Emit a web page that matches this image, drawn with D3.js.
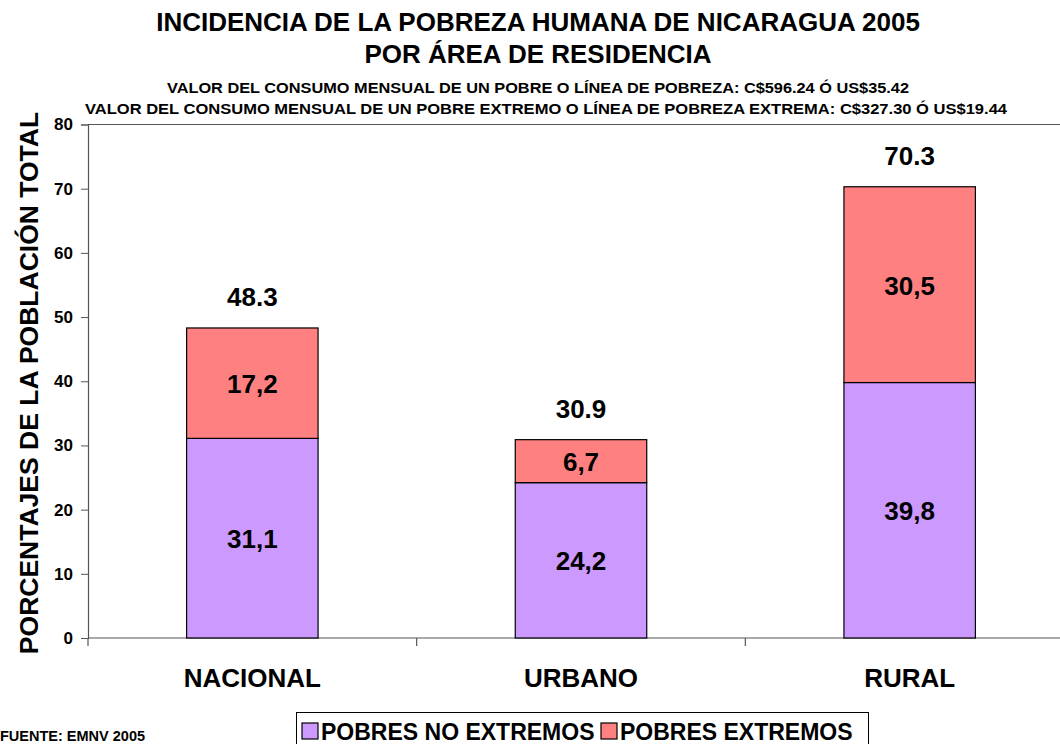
<!DOCTYPE html>
<html>
<head>
<meta charset="utf-8">
<script src="https://cdn.jsdelivr.net/npm/d3@7"></script>
<style>
  body { margin: 0; background: #fff; }
  svg { display: block; font-family: Arial, "Liberation Sans", sans-serif; font-weight: bold; }
</style>
</head>
<body>
<svg id="chart"></svg>
<script>
// datos
const categories = ["NACIONAL", "URBANO", "RURAL"];
const noExtremos = [31.1, 24.2, 39.8];
const extremos = [17.2, 6.7, 30.5];
const totales = [48.3, 30.9, 70.3];
const yTicks = [0, 10, 20, 30, 40, 50, 60, 70, 80];
const seriesNames = ["POBRES NO EXTREMOS", "POBRES EXTREMOS"];
const seriesColors = ["#CC99FF", "#FF8080"];

const W = 1060, H = 744;
const svg = d3.select("#chart").attr("width", W).attr("height", H);

const x = d3.scaleBand().domain(categories).range([88, 1074]).paddingInner(0.6).paddingOuter(0.3);
const y = d3.scaleLinear().domain([0, 80]).range([638, 124.5]);

// titulos
svg.append("text").attr("x", 538).attr("y", 31).attr("text-anchor", "middle")
    .style("font-size", "26px").text("INCIDENCIA DE LA POBREZA HUMANA DE NICARAGUA 2005");
svg.append("text").attr("x", 538).attr("y", 63).attr("text-anchor", "middle")
    .style("font-size", "26px").text("POR ÁREA DE RESIDENCIA");
svg.append("text").attr("x", 538).attr("y", 93).attr("text-anchor", "middle")
    .style("font-size", "14px").attr("textLength", 742).attr("lengthAdjust", "spacingAndGlyphs")
    .text("VALOR DEL CONSUMO MENSUAL DE UN POBRE O LÍNEA DE POBREZA: C$596.24 Ó US$35.42");
svg.append("text").attr("x", 546).attr("y", 114).attr("text-anchor", "middle")
    .style("font-size", "14px").attr("textLength", 922).attr("lengthAdjust", "spacingAndGlyphs")
    .text("VALOR DEL CONSUMO MENSUAL DE UN POBRE EXTREMO O LÍNEA DE POBREZA EXTREMA: C$327.30 Ó US$19.44");

// borde superior del area de trazado
svg.append("line").attr("x1", 88).attr("x2", 1074).attr("y1", y(80)).attr("y2", y(80))
    .attr("stroke", "#555").attr("stroke-width", 1.2);

// eje y
const yAxis = svg.append("g").attr("transform", "translate(88,0)")
    .call(d3.axisLeft(y).tickValues(yTicks).tickSize(7).tickPadding(8));
yAxis.select(".domain").attr("stroke", "#555").attr("stroke-width", 1.2);
yAxis.selectAll(".tick line").attr("stroke", "#555");
yAxis.selectAll("text").style("font-size", "17px").style("font-weight", "bold")
    .style("font-family", "Arial, 'Liberation Sans', sans-serif").attr("fill", "#000");

// eje x
svg.append("line").attr("x1", 88).attr("x2", 1074).attr("y1", y(0)).attr("y2", y(0))
    .attr("stroke", "#555").attr("stroke-width", 1.2);
const bounds = categories.map((c, i) => 88 + i * x.step());
svg.selectAll(".xtick").data(bounds).join("line").attr("class", "xtick")
    .attr("x1", d => d).attr("x2", d => d).attr("y1", y(0)).attr("y2", y(0) + 8)
    .attr("stroke", "#555").attr("stroke-width", 1.2);
svg.selectAll(".xlab").data(categories).join("text").attr("class", "xlab")
    .attr("x", d => x(d) + x.bandwidth() / 2).attr("y", 687).attr("text-anchor", "middle")
    .style("font-size", "26px").text(d => d);

// titulo eje y
svg.append("text").attr("transform", "translate(38,383) rotate(-90)").attr("text-anchor", "middle")
    .style("font-size", "26.5px").text("PORCENTAJES DE LA POBLACIÓN TOTAL");

// barras apiladas
const stacked = categories.map((c, i) => ({ cat: c, a: noExtremos[i], b: extremos[i], t: totales[i] }));
const g = svg.append("g");
g.selectAll(".barA").data(stacked).join("rect").attr("class", "barA")
    .attr("x", d => x(d.cat)).attr("width", x.bandwidth())
    .attr("y", d => y(d.a)).attr("height", d => y(0) - y(d.a))
    .attr("fill", seriesColors[0]).attr("stroke", "#000").attr("stroke-width", 1.2);
g.selectAll(".barB").data(stacked).join("rect").attr("class", "barB")
    .attr("x", d => x(d.cat)).attr("width", x.bandwidth())
    .attr("y", d => y(d.a + d.b)).attr("height", d => y(d.a) - y(d.a + d.b))
    .attr("fill", seriesColors[1]).attr("stroke", "#000").attr("stroke-width", 1.2);

const fmt = v => v.toFixed(1).replace(".", ",");
g.selectAll(".labA").data(stacked).join("text").attr("class", "labA")
    .attr("x", d => x(d.cat) + x.bandwidth() / 2).attr("y", d => y(d.a / 2) + 10)
    .attr("text-anchor", "middle").style("font-size", "26px").text(d => fmt(d.a));
g.selectAll(".labB").data(stacked).join("text").attr("class", "labB")
    .attr("x", d => x(d.cat) + x.bandwidth() / 2).attr("y", d => y(d.a + d.b / 2) + 10)
    .attr("text-anchor", "middle").style("font-size", "26px").text(d => fmt(d.b));
g.selectAll(".labT").data(stacked).join("text").attr("class", "labT")
    .attr("x", d => x(d.cat) + x.bandwidth() / 2).attr("y", d => y(d.t) - 22)
    .attr("text-anchor", "middle").style("font-size", "26px").text(d => d.t.toFixed(1));

// fuente
svg.append("text").attr("x", 0).attr("y", 741).style("font-size", "14.5px").text("FUENTE: EMNV 2005");

// leyenda
const leg = svg.append("g");
leg.append("rect").attr("x", 296.5).attr("y", 712.5).attr("width", 572).attr("height", 40)
    .attr("fill", "#fff").attr("stroke", "#000").attr("stroke-width", 1);
const legX = [302, 601];
seriesNames.forEach((n, i) => {
    leg.append("rect").attr("x", legX[i]).attr("y", 723).attr("width", 16).attr("height", 16)
        .attr("fill", seriesColors[i]).attr("stroke", "#000").attr("stroke-width", 1.2);
    leg.append("text").attr("x", legX[i] + 19).attr("y", 740).style("font-size", "23px").text(n);
});
</script>
</body>
</html>
